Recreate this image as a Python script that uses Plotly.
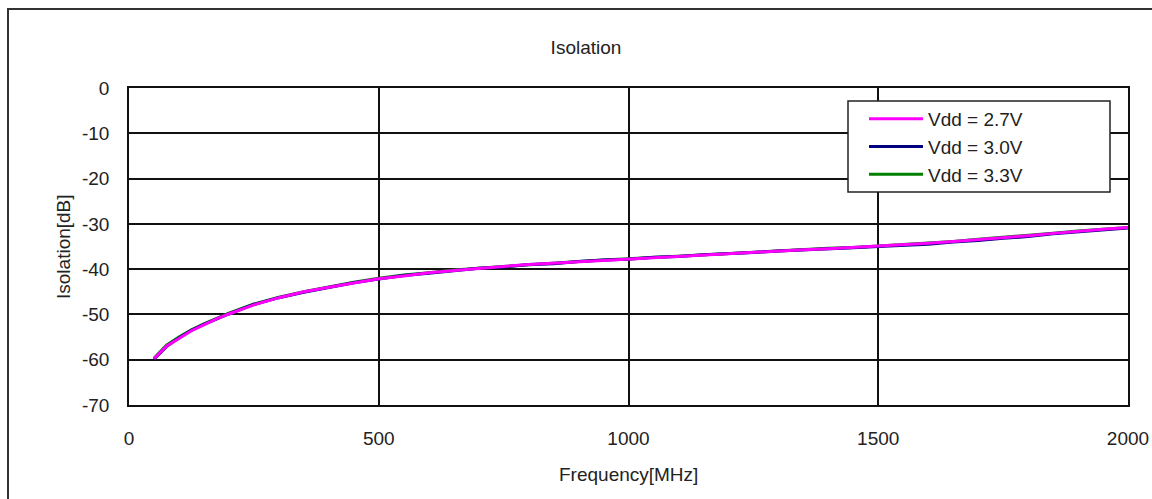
import plotly.graph_objects as go

freq = [50, 75, 100, 125, 150, 175, 200, 250, 300, 350, 400, 450, 500, 550, 600, 650, 700, 750, 800,
        850, 900, 950, 1000, 1050, 1100, 1150, 1200, 1250, 1300, 1350, 1400, 1450, 1500,
        1550, 1600, 1650, 1700, 1750, 1800, 1850, 1900, 1950, 2000]

iso_27 = [-59.8, -57.0, -55.3, -53.6, -52.3, -51.0, -49.9, -47.9, -46.3, -45.0, -44.0, -43.0, -42.1,
          -41.5, -40.8, -40.3, -39.8, -39.4, -39.0, -38.7, -38.3, -38.0, -37.7, -37.4, -37.1,
          -36.8, -36.6, -36.2, -36.0, -35.7, -35.5, -35.2, -35.0, -34.7, -34.3, -33.9, -33.5,
          -33.1, -32.6, -32.1, -31.6, -31.2, -30.8]
iso_30 = [-59.9, -57.1, -55.2, -53.5, -52.2, -51.0, -49.9, -47.8, -46.3, -45.1, -44.1, -43.0, -42.2,
          -41.4, -40.9, -40.4, -39.8, -39.5, -39.0, -38.8, -38.3, -38.0, -37.8, -37.4, -37.2,
          -36.8, -36.6, -36.3, -36.0, -35.8, -35.5, -35.3, -35.0, -34.8, -34.5, -34.0, -33.7,
          -33.2, -32.8, -32.2, -31.8, -31.3, -30.9]
iso_33 = [-59.7, -56.8, -55.0, -53.4, -52.1, -50.9, -49.7, -47.7, -46.2, -45.0, -43.9, -42.9, -42.0,
          -41.3, -40.8, -40.2, -39.8, -39.4, -39.0, -38.6, -38.3, -38.0, -37.7, -37.4, -37.1,
          -36.8, -36.5, -36.2, -35.9, -35.7, -35.4, -35.2, -34.9, -34.6, -34.3, -33.9, -33.4,
          -33.0, -32.6, -32.1, -31.6, -31.2, -30.8]

series_names = ["Vdd = 2.7V", "Vdd = 3.0V", "Vdd = 3.3V"]
colors = ["#FF00FF", "#000080", "#008000"]

x_ticks = [0, 500, 1000, 1500, 2000]
y_ticks = [0, -10, -20, -30, -40, -50, -60, -70]

FONT = "Liberation Sans, Arial, sans-serif"
TXT = "#222222"

fig = go.Figure()
for name, vals, col, rank in [(series_names[2], iso_33, colors[2], 3),
                              (series_names[1], iso_30, colors[1], 2),
                              (series_names[0], iso_27, colors[0], 1)]:
    fig.add_trace(go.Scatter(x=freq, y=vals, mode="lines", name=name,
                             line=dict(color=col, width=3), legendrank=rank))

L, R, T, B = 129, 1128, 88, 405
W, H = 1152, 499
pw, ph = R - L, B - T

def px(xp):
    return (xp - L) / pw

def py(yp):
    return 1 - (yp - T) / ph

fig.update_layout(
    width=W, height=H,
    margin=dict(l=L, r=W - R, t=T, b=H - B, autoexpand=False),
    paper_bgcolor="white", plot_bgcolor="white",
    font=dict(family=FONT, size=19, color=TXT),
    title=dict(text="Isolation", x=px(586), xref="paper", xanchor="center",
               y=1 - 47 / H, yref="container", yanchor="middle",
               font=dict(size=19, color=TXT)),
    showlegend=True,
    legend=dict(x=px(864), y=py(100), xanchor="left", yanchor="top",
                bgcolor="rgba(0,0,0,0)", borderwidth=0,
                font=dict(size=19, color=TXT), tracegroupgap=0,
                itemwidth=54),
    xaxis=dict(range=[0, 2000], tickvals=x_ticks, ticktext=[str(v) for v in x_ticks],
               showgrid=True, gridcolor="#111111", gridwidth=1.5,
               showline=True, linecolor="#111111", linewidth=1.5, mirror=True,
               zeroline=False, ticks="outside", ticklen=0, ticklabelstandoff=15,
               automargin=False, fixedrange=True),
    yaxis=dict(range=[-70, 0], tickvals=y_ticks, ticktext=[str(v) for v in y_ticks],
               showgrid=True, gridcolor="#111111", gridwidth=1.5,
               showline=True, linecolor="#111111", linewidth=1.5, mirror=True,
               zeroline=False, ticks="outside", ticklen=0, ticklabelstandoff=14,
               automargin=False, fixedrange=True),
    annotations=[
        dict(text="Frequency[MHz]", x=px(628), y=py(474), xref="paper", yref="paper",
             showarrow=False, xanchor="center", yanchor="middle",
             font=dict(size=19, color=TXT)),
        dict(text="Isolation[dB]", x=px(63), y=py(247), xref="paper", yref="paper",
             showarrow=False, xanchor="center", yanchor="middle", textangle=-90,
             font=dict(size=19, color=TXT)),
    ],
    shapes=[
        dict(type="rect", xref="paper", yref="paper",
             x0=px(8), x1=px(1170), y0=py(520), y1=py(9),
             line=dict(color="#333333", width=2), fillcolor="rgba(0,0,0,0)", layer="below"),
        dict(type="rect", xref="paper", yref="paper",
             x0=px(848), x1=px(1110), y0=py(192), y1=py(101),
             line=dict(color="#222222", width=1.5), fillcolor="white", layer="above"),
    ],
)

fig.write_html("out.html")
